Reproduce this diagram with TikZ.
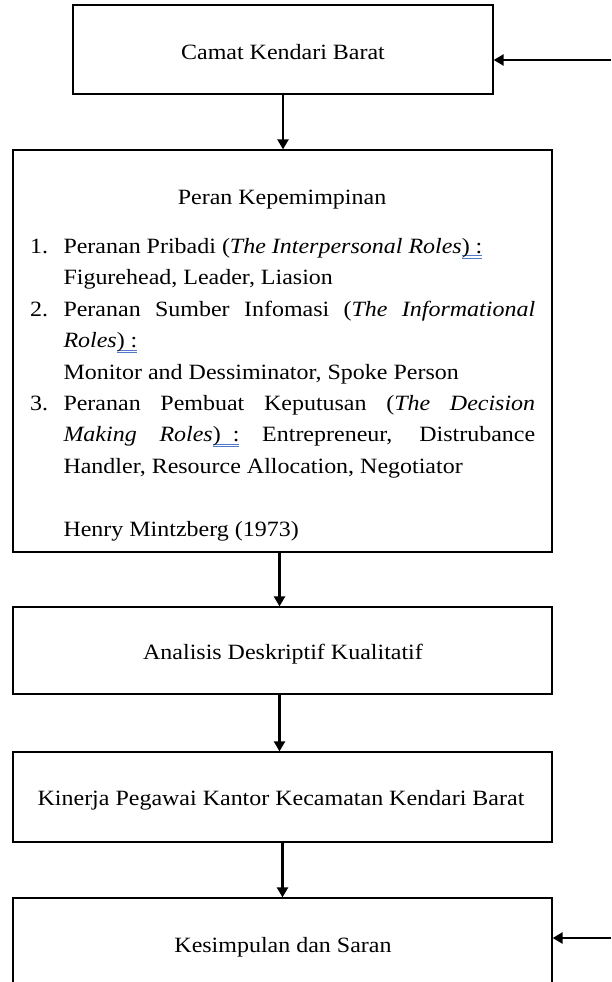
\documentclass[tikz,border=0pt]{standalone}
\usepackage{fontspec}
\setmainfont{Liberation Serif}
\usetikzlibrary{arrows.meta}
\definecolor{ulblue}{RGB}{80,120,200}
\newcommand\wul[1]{\setbox0\hbox{#1}\rlap{\textcolor{ulblue}{\rule[-2.6pt]{\wd0}{0.8pt}}}\rlap{\textcolor{ulblue}{\rule[-4.8pt]{\wd0}{0.8pt}}}\box0\relax}
\newcommand\lbl[1]{\makebox[30.27pt][l]{#1}}
\newcommand\ind{\hspace*{30.27pt}}
\newcommand\just[1]{\makebox[428.8pt][s]{#1}}
\begin{document}
\begin{tikzpicture}[x=1pt,y=-1pt,
  box/.style={draw, line width=1.3pt, inner sep=0pt},
  conn/.style={-{Triangle[width=11pt,length=10pt]}, line width=2.4pt},
  txt/.style={font=\fontsize{21.8}{31.4}\selectfont, inner sep=0pt, xscale=1.10, transform shape}]
\useasboundingbox (0,0) rectangle (611,982);
\clip (0,0) rectangle (611,982);
% boxes
\node[box, minimum width=420pt, minimum height=89pt] (b1) at (283,49.5) {};
\node[box, minimum width=539pt, minimum height=402pt] (b2) at (282.5,351) {};
\node[box, minimum width=539pt, minimum height=87pt] (b3) at (282.5,650.5) {};
\node[box, minimum width=539pt, minimum height=90pt] (b4) at (282.5,797) {};
\node[box, minimum width=539pt, minimum height=92pt] (b5) at (282.5,944) {};
% texts
\node[txt, anchor=base] (t1) at (283,59.3) {Camat Kendari Barat};
\node[txt, anchor=base] (h2) at (282,204) {Peran Kepemimpinan};
\node[txt, anchor=base west, text width=459pt, align=left] (t2) at (30,253.5) {%
\spaceskip=0pt\xspaceskip=0pt
\lbl{1.}Peranan Pribadi (\textit{The Interpersonal Roles}\wul{)~:}\\
\ind Figurehead, Leader, Liasion\\
\lbl{2.}\just{Peranan Sumber Infomasi (\textit{The Informational}}\\
\ind\textit{Roles}\wul{)~:}\\
\ind Monitor and Dessiminator, Spoke Person\\
\lbl{3.}\just{Peranan Pembuat Keputusan (\textit{The Decision}}\\
\ind\just{\textit{Making Roles}\wul{)~~:} Entrepreneur, Distrubance}\\
\ind Handler, Resource Allocation, Negotiator\\
\mbox{}\\
\ind Henry Mintzberg (1973)};
\node[txt, anchor=base] (t3) at (283,659) {Analisis Deskriptif Kualitatif};
\node[txt, anchor=base] (t4) at (281,805) {Kinerja Pegawai Kantor Kecamatan Kendari Barat};
\node[txt, anchor=base] (t5) at (283,952) {Kesimpulan dan Saran};
% connectors
\draw[conn] (b1.south) -- (b2.north -| b1.south);
\draw[conn] ([xshift=-3pt]b2.south) -- ([xshift=-3pt]b3.north);
\draw[conn] ([xshift=-3pt]b3.south) -- ([xshift=-3pt]b4.north);
\draw[conn] (b4.south) -- (b5.north);
\coordinate (r1) at (611,60);
\coordinate (r5) at (611,938);
\draw[conn, line width=2.6pt] (r1) -- (r1 -| b1.east);
\draw[conn, line width=2.6pt] (r5) -- (r5 -| b5.east);
\end{tikzpicture}
\end{document}
